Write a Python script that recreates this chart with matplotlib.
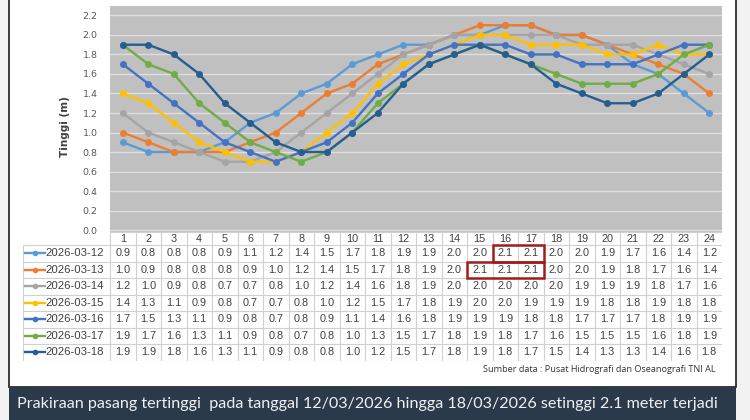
import matplotlib
matplotlib.use("Agg")
import matplotlib.pyplot as plt
from matplotlib.patches import Rectangle
from matplotlib.lines import Line2D

hours = list(range(1, 25))
dates = ["2026-03-12", "2026-03-13", "2026-03-14", "2026-03-15",
         "2026-03-16", "2026-03-17", "2026-03-18"]
h_0312 = [0.9, 0.8, 0.8, 0.8, 0.9, 1.1, 1.2, 1.4, 1.5, 1.7, 1.8, 1.9, 1.9, 2.0, 2.0, 2.1, 2.1, 2.0, 2.0, 1.9, 1.7, 1.6, 1.4, 1.2]
h_0313 = [1.0, 0.9, 0.8, 0.8, 0.8, 0.9, 1.0, 1.2, 1.4, 1.5, 1.7, 1.8, 1.9, 2.0, 2.1, 2.1, 2.1, 2.0, 2.0, 1.9, 1.8, 1.7, 1.6, 1.4]
h_0314 = [1.2, 1.0, 0.9, 0.8, 0.7, 0.7, 0.8, 1.0, 1.2, 1.4, 1.6, 1.8, 1.9, 2.0, 2.0, 2.0, 2.0, 2.0, 1.9, 1.9, 1.9, 1.8, 1.7, 1.6]
h_0315 = [1.4, 1.3, 1.1, 0.9, 0.8, 0.7, 0.7, 0.8, 1.0, 1.2, 1.5, 1.7, 1.8, 1.9, 2.0, 2.0, 1.9, 1.9, 1.9, 1.8, 1.8, 1.9, 1.8, 1.8]
h_0316 = [1.7, 1.5, 1.3, 1.1, 0.9, 0.8, 0.7, 0.8, 0.9, 1.1, 1.4, 1.6, 1.8, 1.9, 1.9, 1.9, 1.8, 1.8, 1.7, 1.7, 1.7, 1.8, 1.9, 1.9]
h_0317 = [1.9, 1.7, 1.6, 1.3, 1.1, 0.9, 0.8, 0.7, 0.8, 1.0, 1.3, 1.5, 1.7, 1.8, 1.9, 1.8, 1.7, 1.6, 1.5, 1.5, 1.5, 1.6, 1.8, 1.9]
h_0318 = [1.9, 1.9, 1.8, 1.6, 1.3, 1.1, 0.9, 0.8, 0.8, 1.0, 1.2, 1.5, 1.7, 1.8, 1.9, 1.8, 1.7, 1.5, 1.4, 1.3, 1.3, 1.4, 1.6, 1.8]
series = [h_0312, h_0313, h_0314, h_0315, h_0316, h_0317, h_0318]
colors = ["#5B9BD5", "#ED7D31", "#A5A5A5", "#FFC000", "#4472C4", "#70AD47", "#255E91"]
yticks = [0.0, 0.2, 0.4, 0.6, 0.8, 1.0, 1.2, 1.4, 1.6, 1.8, 2.0, 2.2]
# highlighted maxima: (row index, first hour, last hour)
highlights = [(0, 16, 17), (1, 15, 17)]

ylabel = "Tinggi (m)"
source = "Sumber data : Pusat Hidrografi dan Oseanografi TNI AL"
banner = "Prakiraan pasang tertinggi  pada tanggal 12/03/2026 hingga 18/03/2026 setinggi 2.1 meter terjadi"

W, H = 750, 420
fig = plt.figure(figsize=(7.5, 4.2), dpi=100)
fig.patch.set_facecolor("#f2f2f2")

def fx(px):
    return px / W

def fy(py):
    return 1 - py / H

# white framed panel
fig.add_artist(Rectangle((fx(9), fy(387)), fx(736) - fx(9), fy(0) - fy(387) + 0.01,
                         transform=fig.transFigure, facecolor="white",
                         edgecolor="#1a1a1a", linewidth=1.2, zorder=0))
# banner
fig.add_artist(Rectangle((fx(9), fy(420)), fx(736) - fx(9), fy(387) - fy(420),
                         transform=fig.transFigure, facecolor="#2b3a4b",
                         edgecolor="none", zorder=1))
fig.text(fx(17), fy(404), banner, color="#f0f0f0", fontsize=11.6,
         family="Lato", va="center", ha="left")

# main plot
L, R, T, B = 110, 722, 6, 232
ax = fig.add_axes([fx(L), fy(B), fx(R) - fx(L), fy(T) - fy(B)])
ax.set_facecolor("#c0c0c0")
for s in ax.spines.values():
    s.set_visible(False)
for yv in yticks:
    ax.axhline(yv, color="#dedede", linewidth=1.0, zorder=1)
for vals, c in zip(series, colors):
    ax.plot(hours, vals, color=c, linewidth=1.7, marker="o", markersize=4, zorder=3)
ax.set_xlim(0.5, 24.5)
ax.set_ylim(-0.02, 2.297)
ax.set_xticks([])
ax.set_yticks(yticks)
ax.set_yticklabels([f"{v:.1f}" for v in yticks], fontsize=6.8, color="#595959",
                   family="DejaVu Sans")
ax.tick_params(axis="y", length=0, pad=9)
fig.text(fx(65), fy(127), ylabel, rotation=90, fontsize=7.5, fontweight="bold",
         color="#404040", va="center", ha="center")

# data table
TL, TB = 23, 360.5
tax = fig.add_axes([fx(TL), fy(TB), fx(R) - fx(TL), fy(B) - fy(TB)])
tax.set_axis_off()
left_edge = 0.5 - (L - TL) / 25.5
tax.set_xlim(left_edge, 24.5)
hdr_top = 0.5 - 13 / 16.5
tax.set_ylim(7.5, hdr_top)
gc = "#d0d0d0"
nrows = len(series)
# horizontal lines
tax.plot([0.5, 24.5], [hdr_top, hdr_top], color=gc, lw=0.8)
for r in range(nrows + 1):
    tax.plot([left_edge, 24.5], [r + 0.5, r + 0.5], color=gc, lw=0.8)
# vertical lines
tax.plot([left_edge, left_edge], [0.5, nrows + 0.5], color=gc, lw=0.8)
for c in range(25):
    tax.plot([c + 0.5, c + 0.5], [hdr_top, nrows + 0.5], color=gc, lw=0.8)
tfont = dict(fontsize=7.8, color="#404040", family="Liberation Sans",
             ha="center", va="center")
for hh in hours:
    tax.text(hh, (hdr_top + 0.5) / 2, str(hh), **tfont)
for r, (d, vals, c) in enumerate(zip(dates, series, colors)):
    y = r + 1
    tax.add_line(Line2D([left_edge + 0.08, left_edge + 0.85], [y, y], color=c, lw=1.7))
    tax.plot([left_edge + 0.465], [y], marker="o", color=c, markersize=3)
    tax.text(left_edge + 0.88, y, d, fontsize=8.2, color="#404040",
             family="Liberation Sans", ha="left", va="center")
    for hh, v in zip(hours, vals):
        tax.text(hh, y, f"{v:.1f}", **tfont)
for r, h0, h1 in highlights:
    tax.add_patch(Rectangle((h0 - 0.5, r + 0.5), h1 - h0 + 1, 1, fill=False,
                            edgecolor="#a01c1c", linewidth=1.8, zorder=5))

fig.text(fx(716), fy(369), source, fontsize=6.6, color="#333333",
         family="Open Sans", ha="right", va="center")

fig.savefig("out.png", dpi=100, facecolor=fig.get_facecolor())
